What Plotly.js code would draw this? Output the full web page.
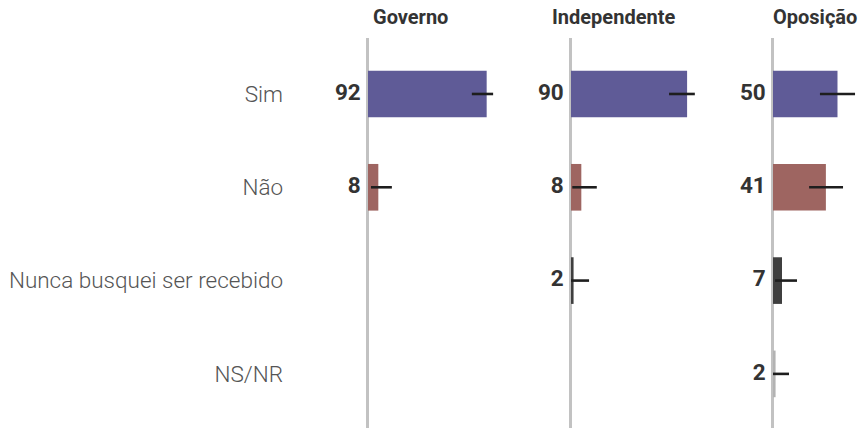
<!DOCTYPE html>
<html>
<head>
<meta charset="utf-8">
<script src="https://cdn.plot.ly/plotly-3.0.1.min.js"></script>
<style>html,body{margin:0;padding:0;background:#fff;}#chart{width:862px;height:428px;}</style>
</head>
<body>
<div id="chart"></div>
<script>
// Data
const categories = ["Sim", "Não", "Nunca busquei ser recebido", "NS/NR"];
const panelTitles = ["Governo", "Independente", "Oposição"];
const governo = [92, 8, null, null];
const independente = [90, 8, 2, null];
const oposicao = [50, 41, 7, 2];
const governoErrPlus = [5, 10.5, null, null];
const governoErrMinus = [11.5, 5.7, null, null];
const independenteErrPlus = [6, 12, 12, null];
const independenteErrMinus = [14, 7, 2, null];
const oposicaoErrPlus = [13.6, 13.3, 11.6, 10.4];
const oposicaoErrMinus = [13.6, 13, 5.4, 2];
const categoryColors = ["#5f5b97", "#9e6561", "#3f3f3f", "#b3b3b3"];

const W = 862;
const pxPerUnit = 1.29;
const zeroPx = [368, 571, 773];
const xMin = -1.5;
const panelMax = [100, 100, 69];

const series = [governo, independente, oposicao];
const errP = [governoErrPlus, independenteErrPlus, oposicaoErrPlus];
const errM = [governoErrMinus, independenteErrMinus, oposicaoErrMinus];

const traces = [];
const layout = {
  width: 862, height: 428,
  margin: {l: 0, r: 0, t: 38, b: 0, pad: 0},
  paper_bgcolor: "#fff", plot_bgcolor: "#fff",
  showlegend: false,
  bargap: 0.5,
  font: {family: "Roboto", color: "#333"},
  annotations: []
};

series.forEach((vals, i) => {
  const suffix = i === 0 ? "" : String(i + 1);
  const xa = "x" + suffix, ya = "y" + suffix;
  traces.push({
    type: "bar", orientation: "h",
    x: vals, y: categories,
    xaxis: xa, yaxis: ya,
    marker: {color: categoryColors, line: {width: 0}},
    error_x: {type: "data", symmetric: false, array: errP[i], arrayminus: errM[i],
              color: "#1e1e1e", thickness: 2.6, width: 0},
    hoverinfo: "none"
  });
  const labelY = [], labelX = [], labelT = [];
  vals.forEach((v, k) => { if (v !== null) { labelY.push(categories[k]); labelX.push(0); labelT.push(String(v)); } });
  traces.push({
    type: "scatter", mode: "markers+text",
    x: labelX, y: labelY, text: labelT,
    textposition: "middle left",
    marker: {size: 10, color: "rgba(0,0,0,0)"},
    textfont: {family: "Roboto", size: 22.5, color: "#333", weight: 700},
    cliponaxis: false,
    xaxis: xa, yaxis: ya, hoverinfo: "none"
  });
  const start = zeroPx[i] + xMin * pxPerUnit;
  const end = start + (panelMax[i] - xMin) * pxPerUnit;
  layout["xaxis" + suffix] = {
    domain: [start / W, Math.min(end / W, 1)],
    range: [xMin, panelMax[i]],
    anchor: ya,
    showgrid: false, showticklabels: false, ticks: "",
    zeroline: true, zerolinecolor: "#c2c2c2", zerolinewidth: 3,
    showline: false, fixedrange: true
  };
  layout["yaxis" + suffix] = {
    anchor: xa,
    type: "category",
    categoryorder: "array", categoryarray: categories,
    range: [3.58, -0.6],
    showgrid: false, zeroline: false, showline: false, ticks: "",
    showticklabels: i === 0,
    ticklabelstandoff: 82,
    tickfont: {family: "Roboto Light, Roboto", size: 22.5, color: "#555", weight: 300},
    fixedrange: true
  };
  layout.annotations.push({
    xref: "paper", yref: "paper",
    x: (zeroPx[i] + 42) / W, y: 1, yshift: 7,
    xanchor: "center", yanchor: "bottom",
    text: "<b>" + panelTitles[i] + "</b>",
    showarrow: false,
    font: {family: "Roboto", size: 20, color: "#333"}
  });
});

Plotly.newPlot("chart", traces, layout, {displayModeBar: false, staticPlot: true});
</script>
</body>
</html>
